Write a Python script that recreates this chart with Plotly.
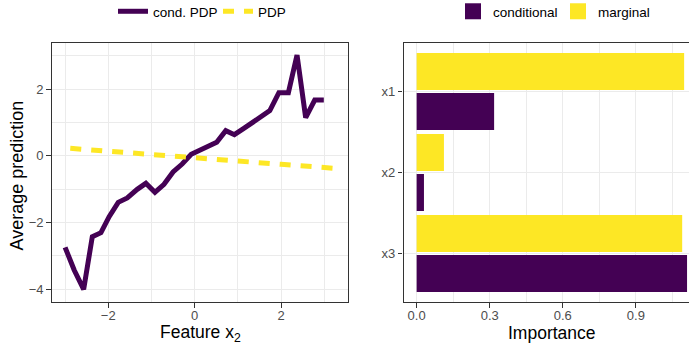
import plotly.graph_objects as go

# ---- data ----
feature_x2 = [-3.00, -2.79, -2.57, -2.37, -2.17, -1.98, -1.77, -1.56, -1.33, -1.13,
              -0.92, -0.71, -0.50, -0.29, -0.08, 0.12, 0.32, 0.51, 0.72, 0.92,
              1.13, 1.33, 1.54, 1.74, 1.95, 2.17, 2.37, 2.57, 2.78, 2.99]
cond_pdp = [-2.75, -3.43, -4.01, -2.43, -2.31, -1.83, -1.40, -1.27, -1.01, -0.83,
            -1.10, -0.86, -0.49, -0.25, 0.04, 0.15, 0.27, 0.40, 0.75, 0.63,
            0.81, 0.99, 1.21, 1.35, 1.89, 1.89, 3.02, 1.14, 1.67, 1.67]
pdp_x = [-2.88, -2.0, -1.0, 0.0, 1.0, 2.0, 3.24]
pdp_y = [0.22, 0.14, 0.04, -0.06, -0.16, -0.26, -0.38]

features = ["x1", "x2", "x3"]
imp_conditional = [0.318, 0.030, 1.110]
imp_marginal = [1.098, 0.112, 1.090]

PURPLE = "#440154"
YELLOW = "#FDE725"
FONT = "Liberation Sans, Arial, Helvetica, sans-serif"
W, H = 689, 349

def px_x(p):
    return p / W

def px_y(p):
    return 1 - p / H

fig = go.Figure()

fig.add_trace(go.Scatter(x=feature_x2, y=cond_pdp, mode="lines", name="cond. PDP",
                         line=dict(color=PURPLE, width=5), xaxis="x", yaxis="y",
                         legend="legend"))
fig.add_trace(go.Scatter(x=pdp_x, y=pdp_y, mode="lines", name="PDP",
                         line=dict(color=YELLOW, width=5, dash="11px,10px"),
                         xaxis="x", yaxis="y", legend="legend"))

fig.add_trace(go.Bar(y=features, x=imp_marginal, orientation="h", name="marginal",
                     marker=dict(color=YELLOW, line=dict(width=0)),
                     width=0.457, offset=-0.475, xaxis="x2", yaxis="y2",
                     showlegend=False))
fig.add_trace(go.Bar(y=features, x=imp_conditional, orientation="h", name="conditional",
                     marker=dict(color=PURPLE, line=dict(width=0)),
                     width=0.457, offset=0.018, xaxis="x2", yaxis="y2",
                     showlegend=False))
# legend entries for the bar panel
fig.add_trace(go.Scatter(x=[None], y=[None], mode="markers", name="conditional",
                         marker=dict(symbol="square", size=20, color=PURPLE),
                         xaxis="x2", yaxis="y2", legend="legend2"))
fig.add_trace(go.Scatter(x=[None], y=[None], mode="markers", name="marginal",
                         marker=dict(symbol="square", size=20, color=YELLOW),
                         xaxis="x2", yaxis="y2", legend="legend2"))

grid = "#EBEBEB"
border = "#333333"
tickfont = dict(family=FONT, size=13, color="#4D4D4D")
common = dict(showline=True, linecolor=border, linewidth=1.1, ticks="outside",
              ticklen=4.5, tickcolor=border, tickwidth=1.1, tickfont=tickfont,
              showgrid=True, gridcolor=grid, gridwidth=1.2, zeroline=False)

fig.update_layout(
    width=W, height=H, margin=dict(l=0, r=0, t=0, b=0, autoexpand=False),
    paper_bgcolor="white", plot_bgcolor="white",
    font=dict(family=FONT, color="black"),
    xaxis=dict(domain=[px_x(51.7), px_x(348)], range=[-3.31, 3.55],
               tickvals=[-2, 0, 2], mirror=True, anchor="y",
               ticklabelstandoff=-3,
               minor=dict(dtick=1, tick0=0, showgrid=True, gridcolor=grid,
                          gridwidth=0.7, ticks=""),
               **common),
    yaxis=dict(domain=[px_y(302), px_y(43)], range=[-4.39, 3.38],
               tickvals=[-4, -2, 0, 2], mirror=True, anchor="x",
               minor=dict(dtick=1, tick0=0, showgrid=True, gridcolor=grid,
                          gridwidth=0.7, ticks=""),
               **common),
    xaxis2=dict(domain=[px_x(403.5), 1.0], range=[-0.054, 1.118],
                tick0=0, dtick=0.3, tickformat=".1f", mirror=True, anchor="y2",
                ticklabelstandoff=-3,
                minor=dict(dtick=0.15, tick0=0, showgrid=True, gridcolor=grid,
                           gridwidth=0.7, ticks=""),
                **common),
    yaxis2=dict(domain=[px_y(302), px_y(43)], type="category",
                categoryorder="array", categoryarray=features,
                range=[2.6, -0.6], anchor="x2", mirror=False, **common),
    legend=dict(orientation="h", x=px_x(113), xanchor="left", y=1 + 4 / H,
                yanchor="top",
                font=dict(family=FONT, size=13.5, color="black"),
                bgcolor="rgba(0,0,0,0)", itemwidth=30, entrywidth=60,
                entrywidthmode="pixels"),
    legend2=dict(orientation="h", x=px_x(453), xanchor="left", y=1 + 4 / H,
                 yanchor="top",
                 font=dict(family=FONT, size=13.5, color="black"),
                 bgcolor="rgba(0,0,0,0)", itemwidth=30, entrywidth=60,
                 entrywidthmode="pixels"),
    annotations=[
        dict(text="Average prediction", xref="paper", yref="paper",
             x=px_x(16.5), y=px_y(176), xanchor="center", yanchor="middle",
             textangle=-90, showarrow=False,
             font=dict(family=FONT, size=18, color="black")),
        dict(text="Feature x<sub>2</sub>", xref="paper", yref="paper",
             x=px_x(200), y=px_y(333), xanchor="center", yanchor="middle",
             showarrow=False, font=dict(family=FONT, size=17.5, color="black")),
        dict(text="Importance", xref="paper", yref="paper",
             x=px_x(551.7), y=px_y(333), xanchor="center", yanchor="middle",
             showarrow=False, font=dict(family=FONT, size=17.5, color="black")),
    ],
    barmode="overlay",
)

fig.write_html("out.html")
